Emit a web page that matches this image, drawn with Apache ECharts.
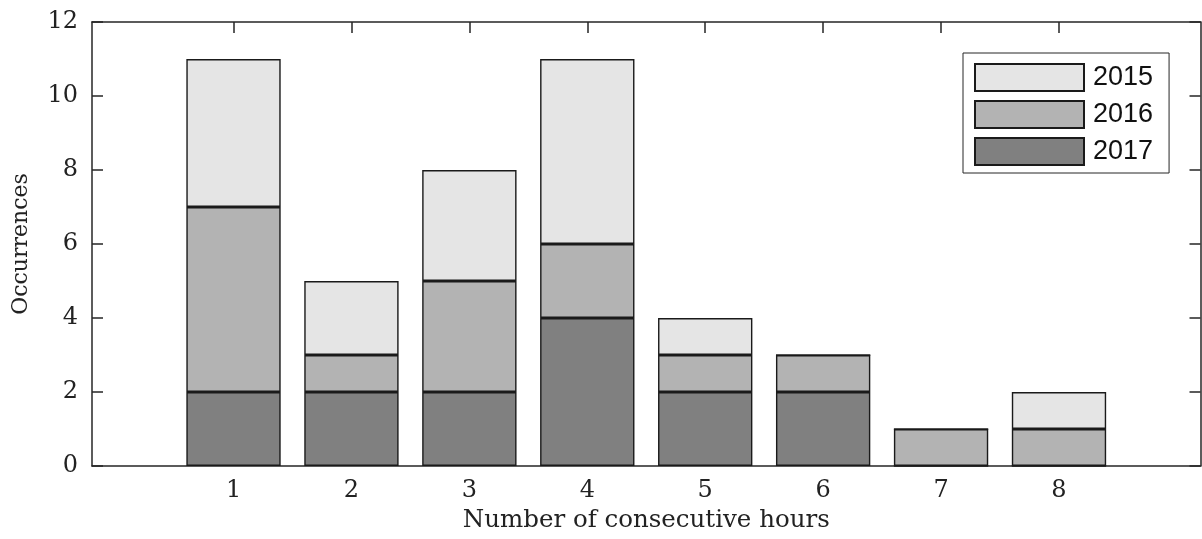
<!DOCTYPE html>
<html>
<head>
<meta charset="utf-8" />
<title>Occurrences</title>
<script src="https://cdn.jsdelivr.net/npm/echarts@6/dist/echarts.min.js"></script>
<style>
  html, body { margin: 0; padding: 0; background: #fff; }
  #chart { width: 1202px; height: 539px; }
</style>
</head>
<body>
<div id="chart"></div>
<script>
  // number of consecutive hours (x) and occurrences per year
  var hours = ['1', '2', '3', '4', '5', '6', '7', '8'];
  var hourTicks = [1, 2, 3, 4, 5, 6, 7, 8];
  var occ2017 = [2, 2, 2, 4, 2, 2, 0, 0];
  var occ2016 = [5, 1, 3, 2, 1, 1, 1, 1];
  var occ2015 = [4, 2, 3, 5, 1, 0, 0, 1];

  var serif = 'DejaVu Serif';
  var axisCol = '#262626';

  // frame axes run from -0.2 to 9.2 (matlab style), bars sit in an inner grid
  var xMin = -0.2, xMax = 9.2;
  var gl = 92, gr = 1.5, gt = 22, gb = 73;
  var unit = (1202 - gl - gr) / (xMax - xMin);

  function barSeries(name, vals, color) {
    return {
      name: name,
      type: 'bar',
      stack: 'total',
      xAxisIndex: 2, yAxisIndex: 2,
      data: vals,
      barWidth: '80%',
      itemStyle: { color: color, borderColor: '#1a1a1a', borderWidth: 1.4 },
      emphasis: { disabled: true }
    };
  }

  var lineStyle = { color: axisCol, width: 1.5 };
  var xBase = {
    type: 'value', min: xMin, max: xMax, gridIndex: 0,
    splitLine: { show: false },
    axisLine: { show: true, onZero: false, lineStyle: lineStyle },
    axisTick: { show: true, inside: true, length: 11, customValues: hourTicks, lineStyle: lineStyle }
  };
  var yBase = {
    type: 'value', min: 0, max: 12, interval: 2, gridIndex: 0,
    splitLine: { show: false },
    axisLine: { show: true, onZero: false, lineStyle: lineStyle },
    axisTick: { show: true, inside: true, length: 11, lineStyle: lineStyle }
  };

  var option = {
    animation: false,
    backgroundColor: '#fff',
    grid: [
      { left: gl, top: gt, right: gr, bottom: gb, containLabel: false },
      {
        left: gl + (1 - 0.5 - xMin) * unit,
        right: gr + (xMax - 8 - 0.5) * unit,
        top: gt, bottom: gb, containLabel: false
      }
    ],
    legend: {
      orient: 'vertical',
      left: 963, top: 53,
      data: ['2015', '2016', '2017'],
      itemWidth: 109, itemHeight: 27, itemGap: 8,
      padding: [10, 16, 7, 11],
      borderColor: axisCol, borderWidth: 1,
      backgroundColor: '#fff',
      icon: 'rect',
      textStyle: { fontFamily: 'Liberation Sans', fontSize: 27, color: '#111', lineHeight: 27, padding: [0, 0, 0, 4] }
    },
    xAxis: [
      Object.assign({}, xBase, {
        position: 'bottom',
        name: 'Number of consecutive hours', nameLocation: 'middle', nameGap: 31,
        nameTextStyle: { fontFamily: serif, fontSize: 24.5, color: '#222' },
        axisLabel: { show: true, customValues: hourTicks, margin: 13, fontFamily: serif, fontSize: 24, color: '#222' }
      }),
      Object.assign({}, xBase, { position: 'top', axisLabel: { show: false } }),
      { type: 'category', gridIndex: 1, data: hours, show: false }
    ],
    yAxis: [
      Object.assign({}, yBase, {
        position: 'left',
        name: 'Occurrences', nameLocation: 'middle', nameGap: 60,
        nameTextStyle: { fontFamily: serif, fontSize: 22, color: '#222' },
        axisLabel: { show: true, margin: 14, fontFamily: serif, fontSize: 24, color: '#222' }
      }),
      Object.assign({}, yBase, { position: 'right', axisLabel: { show: false } }),
      { type: 'value', gridIndex: 1, min: 0, max: 12, show: false }
    ],
    series: [
      barSeries('2017', occ2017, '#808080'),
      barSeries('2016', occ2016, '#b3b3b3'),
      barSeries('2015', occ2015, '#e5e5e5')
    ]
  };

  var chart = echarts.init(document.getElementById('chart'), null, { renderer: 'canvas' });
  chart.setOption(option);
</script>
</body>
</html>
